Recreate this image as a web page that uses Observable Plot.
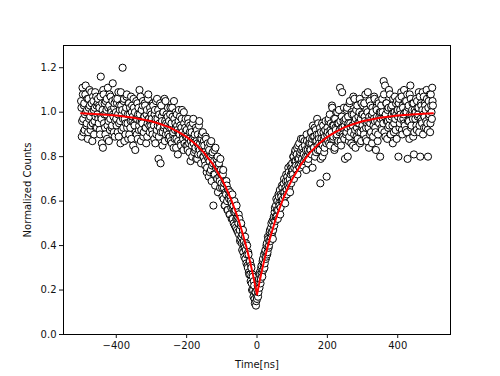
<!DOCTYPE html>
<html>
<head>
<meta charset="utf-8">
<script src="https://cdn.jsdelivr.net/npm/d3@7"></script>
<script src="https://cdn.jsdelivr.net/npm/@observablehq/plot@0.6"></script>
<style>
  html, body { margin: 0; padding: 0; background: #fff; }
  #chart { width: 500px; height: 376px; }
  svg { font-family: "DejaVu Sans", sans-serif; }
</style>
</head>
<body>
<div id="chart"></div>
<script>
// Measured samples, even time bins (ns) and normalized counts
const timeNs = [
  -500,-498,-496,-494,-492,-490,-488,-486,-484,-482,-480,-478,-476,-474,-472,-470,-468,-466,-464,-462,-460,-458,-456,-454,-452,
  -450,-448,-446,-444,-442,-440,-438,-436,-434,-432,-430,-428,-426,-424,-422,-420,-418,-416,-414,-412,-410,-408,-406,-404,-402,
  -400,-398,-396,-394,-392,-390,-388,-386,-384,-382,-380,-378,-376,-374,-372,-370,-368,-366,-364,-362,-360,-358,-356,-354,-352,
  -350,-348,-346,-344,-342,-340,-338,-336,-334,-332,-330,-328,-326,-324,-322,-320,-318,-316,-314,-312,-310,-308,-306,-304,-302,
  -300,-298,-296,-294,-292,-290,-288,-286,-284,-282,-280,-278,-276,-274,-272,-270,-268,-266,-264,-262,-260,-258,-256,-254,-252,
  -250,-248,-246,-244,-242,-240,-238,-236,-234,-232,-230,-228,-226,-224,-222,-220,-218,-216,-214,-212,-210,-208,-206,-204,-202,
  -200,-198,-196,-194,-192,-190,-188,-186,-184,-182,-180,-178,-176,-174,-172,-170,-168,-166,-164,-162,-160,-158,-156,-154,-152,
  -150,-148,-146,-144,-142,-140,-138,-136,-134,-132,-130,-128,-126,-124,-122,-120,-118,-116,-114,-112,-110,-108,-106,-104,-102,
  -100,-98,-96,-94,-92,-90,-88,-86,-84,-82,-80,-78,-76,-74,-72,-70,-68,-66,-64,-62,-60,-58,-56,-54,-52,
  -50,-48,-46,-44,-42,-40,-38,-36,-34,-32,-30,-28,-26,-24,-22,-20,-18,-16,-14,-12,-10,-8,-6,-4,-2,
  0,2,4,6,8,10,12,14,16,18,20,22,24,26,28,30,32,34,36,38,40,42,44,46,48,
  50,52,54,56,58,60,62,64,66,68,70,72,74,76,78,80,82,84,86,88,90,92,94,96,98,
  100,102,104,106,108,110,112,114,116,118,120,122,124,126,128,130,132,134,136,138,140,142,144,146,148,
  150,152,154,156,158,160,162,164,166,168,170,172,174,176,178,180,182,184,186,188,190,192,194,196,198,
  200,202,204,206,208,210,212,214,216,218,220,222,224,226,228,230,232,234,236,238,240,242,244,246,248,
  250,252,254,256,258,260,262,264,266,268,270,272,274,276,278,280,282,284,286,288,290,292,294,296,298,
  300,302,304,306,308,310,312,314,316,318,320,322,324,326,328,330,332,334,336,338,340,342,344,346,348,
  350,352,354,356,358,360,362,364,366,368,370,372,374,376,378,380,382,384,386,388,390,392,394,396,398,
  400,402,404,406,408,410,412,414,416,418,420,422,424,426,428,430,432,434,436,438,440,442,444,446,448,
  450,452,454,456,458,460,462,464,466,468,470,472,474,476,478,480,482,484,486,488,490,492,494,496,498,
  500
];
const normCounts = [
  1.05,0.89,1.11,0.97,1.03,0.92,1.08,1.00,0.95,1.06,0.91,1.02,1.10,0.98,0.94,1.04,0.87,1.07,1.01,0.96,1.09,0.93,1.03,0.99,1.06,
  0.95,1.02,0.90,1.16,0.97,1.04,0.84,1.08,0.99,0.93,1.05,1.01,0.88,1.11,0.96,1.03,0.92,1.07,1.00,0.94,1.13,0.98,1.02,0.89,1.06,
  0.97,1.04,0.91,1.09,0.95,1.01,0.86,1.03,0.99,1.20,0.93,1.06,0.97,0.90,1.02,1.08,0.95,0.88,1.04,0.99,0.93,1.07,1.00,0.96,0.85,
  1.02,0.94,0.83,0.97,0.90,1.04,0.99,0.92,1.10,0.96,0.87,1.01,0.95,1.05,0.91,0.98,1.03,0.93,0.99,0.89,1.06,0.97,0.94,1.02,0.96,
  0.99,0.92,1.04,0.95,0.88,1.01,0.97,0.90,1.06,0.94,0.79,0.99,0.93,0.77,1.03,0.96,0.91,1.00,0.94,0.87,1.05,0.95,0.92,0.98,0.90,
  0.96,0.89,1.02,0.93,0.86,0.98,0.91,1.05,0.88,0.95,0.84,0.99,0.92,0.87,1.01,0.90,0.94,0.85,0.97,0.91,0.88,1.00,0.86,0.93,0.89,
  0.92,0.85,0.97,0.88,0.82,0.94,0.87,0.91,0.80,0.95,0.86,0.89,0.83,0.93,0.87,0.79,0.90,0.84,0.96,0.86,0.81,0.88,0.84,0.91,0.80,
  0.85,0.78,0.89,0.81,0.75,0.86,0.79,0.83,0.73,0.80,0.87,0.76,0.82,0.58,0.78,0.72,0.84,0.76,0.70,0.80,0.74,0.77,0.69,0.79,0.72,
  0.72,0.62,0.74,0.66,0.58,0.69,0.63,0.67,0.56,0.65,0.62,0.54,0.64,0.60,0.52,0.63,0.57,0.50,0.60,0.55,0.48,0.58,0.52,0.46,0.54,
  0.52,0.42,0.49,0.44,0.38,0.47,0.41,0.35,0.44,0.38,0.32,0.40,0.30,0.36,0.27,0.33,0.24,0.30,0.20,0.26,0.17,0.22,0.14,0.19,0.15,
  0.16,0.22,0.19,0.25,0.28,0.23,0.30,0.27,0.33,0.29,0.36,0.32,0.38,0.35,0.41,0.37,0.43,0.40,0.46,0.42,0.48,0.45,0.51,0.47,0.53,
  0.55,0.51,0.58,0.53,0.60,0.56,0.62,0.58,0.54,0.63,0.60,0.66,0.61,0.68,0.64,0.59,0.69,0.65,0.71,0.67,0.73,0.68,0.64,0.72,0.75,
  0.77,0.72,0.80,0.75,0.82,0.78,0.74,0.84,0.79,0.76,0.86,0.81,0.77,0.83,0.79,0.88,0.82,0.78,0.85,0.80,0.74,0.87,0.83,0.79,0.86,
  0.88,0.83,0.91,0.86,0.75,0.89,0.84,0.93,0.87,0.82,0.90,0.85,0.95,0.88,0.83,0.68,0.91,0.86,0.80,0.94,0.88,0.84,0.92,0.87,0.71,
  0.93,0.87,0.97,0.90,0.85,0.95,0.91,1.02,0.88,0.94,0.83,0.97,0.92,0.89,1.00,0.86,0.95,0.91,1.11,0.87,0.93,1.09,0.90,0.96,0.88,
  0.79,0.97,0.91,1.02,0.80,0.95,0.89,1.05,0.93,0.86,0.99,0.94,1.07,0.90,0.96,0.84,1.01,0.93,0.88,0.98,0.95,1.06,0.91,0.87,0.99,
  0.94,1.03,0.90,0.98,1.08,0.93,0.87,1.00,0.96,0.84,1.05,0.95,0.91,0.99,1.02,0.89,0.97,1.06,0.93,0.83,1.01,0.96,0.90,1.04,0.98,
  0.80,1.00,0.93,1.06,0.97,1.14,0.91,1.12,0.99,1.04,0.88,0.96,1.02,0.94,1.08,0.90,0.98,1.03,0.86,1.00,0.95,1.07,0.92,0.99,1.05,
  1.01,0.80,1.06,0.95,0.99,1.09,0.92,1.03,0.97,1.10,0.94,1.00,1.05,0.91,0.79,1.02,0.96,1.08,1.12,0.93,0.99,1.04,0.89,0.81,1.01,
  0.97,1.06,0.92,1.02,0.99,1.09,0.94,0.80,1.04,0.96,1.01,0.90,1.07,0.98,1.03,0.93,1.10,0.95,0.80,1.05,0.99,0.91,1.08,1.00,1.11,
  1.03
];
// Measured samples, odd time bins (ns) and normalized counts
const timeNsOdd = [
  -499,-497,-495,-493,-491,-489,-487,-485,-483,-481,-479,-477,-475,-473,-471,-469,-467,-465,-463,-461,-459,-457,-455,-453,-451,
  -449,-447,-445,-443,-441,-439,-437,-435,-433,-431,-429,-427,-425,-423,-421,-419,-417,-415,-413,-411,-409,-407,-405,-403,-401,
  -399,-397,-395,-393,-391,-389,-387,-385,-383,-381,-379,-377,-375,-373,-371,-369,-367,-365,-363,-361,-359,-357,-355,-353,-351,
  -349,-347,-345,-343,-341,-339,-337,-335,-333,-331,-329,-327,-325,-323,-321,-319,-317,-315,-313,-311,-309,-307,-305,-303,-301,
  -299,-297,-295,-293,-291,-289,-287,-285,-283,-281,-279,-277,-275,-273,-271,-269,-267,-265,-263,-261,-259,-257,-255,-253,-251,
  -249,-247,-245,-243,-241,-239,-237,-235,-233,-231,-229,-227,-225,-223,-221,-219,-217,-215,-213,-211,-209,-207,-205,-203,-201,
  -199,-197,-195,-193,-191,-189,-187,-185,-183,-181,-179,-177,-175,-173,-171,-169,-167,-165,-163,-161,-159,-157,-155,-153,-151,
  -149,-147,-145,-143,-141,-139,-137,-135,-133,-131,-129,-127,-125,-123,-121,-119,-117,-115,-113,-111,-109,-107,-105,-103,-101,
  -99,-97,-95,-93,-91,-89,-87,-85,-83,-81,-79,-77,-75,-73,-71,-69,-67,-65,-63,-61,-59,-57,-55,-53,-51,
  -49,-47,-45,-43,-41,-39,-37,-35,-33,-31,-29,-27,-25,-23,-21,-19,-17,-15,-13,-11,-9,-7,-5,-3,-1,
  1,3,5,7,9,11,13,15,17,19,21,23,25,27,29,31,33,35,37,39,41,43,45,47,49,
  51,53,55,57,59,61,63,65,67,69,71,73,75,77,79,81,83,85,87,89,91,93,95,97,99,
  101,103,105,107,109,111,113,115,117,119,121,123,125,127,129,131,133,135,137,139,141,143,145,147,149,
  151,153,155,157,159,161,163,165,167,169,171,173,175,177,179,181,183,185,187,189,191,193,195,197,199,
  201,203,205,207,209,211,213,215,217,219,221,223,225,227,229,231,233,235,237,239,241,243,245,247,249,
  251,253,255,257,259,261,263,265,267,269,271,273,275,277,279,281,283,285,287,289,291,293,295,297,299,
  301,303,305,307,309,311,313,315,317,319,321,323,325,327,329,331,333,335,337,339,341,343,345,347,349,
  351,353,355,357,359,361,363,365,367,369,371,373,375,377,379,381,383,385,387,389,391,393,395,397,399,
  401,403,405,407,409,411,413,415,417,419,421,423,425,427,429,431,433,435,437,439,441,443,445,447,449,
  451,453,455,457,459,461,463,465,467,469,471,473,475,477,479,481,483,485,487,489,491,493,495,497,499
];
const normCountsOdd = [
  1.02,0.96,1.08,0.91,1.04,0.99,1.12,0.94,1.01,0.88,1.06,0.97,1.03,0.92,1.09,1.00,0.95,1.05,0.90,1.02,0.98,1.07,0.93,1.04,0.97,
  1.03,0.92,1.07,0.98,0.86,1.01,1.10,0.95,1.04,0.90,0.99,1.06,0.94,1.02,0.87,1.08,0.97,1.01,0.93,1.05,0.99,0.91,1.04,0.96,1.00,
  0.94,1.06,0.99,0.89,1.03,0.96,1.09,0.92,1.01,0.97,1.05,0.87,1.00,0.95,1.07,0.93,0.99,1.04,0.90,1.02,0.96,0.88,1.03,0.98,1.06,
  0.95,1.00,0.91,1.05,0.97,0.88,1.02,0.94,0.99,1.07,0.92,0.96,1.03,0.89,0.98,1.04,0.93,0.86,1.01,0.95,1.08,0.97,0.91,1.00,0.94,
  0.97,0.90,1.03,0.94,0.99,0.86,1.05,0.92,0.97,1.01,0.89,0.95,1.04,0.91,0.98,0.85,1.00,0.93,1.06,0.96,0.90,0.99,0.94,1.02,0.88,
  0.93,0.99,0.87,0.95,1.02,0.90,0.84,0.97,0.92,1.00,0.88,0.94,0.81,0.96,0.91,0.98,0.86,0.93,1.01,0.89,0.83,0.95,0.90,0.97,0.85,
  0.89,0.83,0.95,0.86,0.91,0.78,0.93,0.85,0.88,0.97,0.82,0.90,0.84,0.79,0.92,0.86,0.81,0.94,0.83,0.88,0.77,0.90,0.85,0.80,0.87,
  0.82,0.76,0.88,0.73,0.80,0.84,0.71,0.78,0.86,0.74,0.69,0.81,0.77,0.72,0.83,0.67,0.75,0.79,0.70,0.64,0.76,0.71,0.66,0.74,0.68,
  0.66,0.72,0.61,0.68,0.58,0.64,0.69,0.60,0.56,0.65,0.61,0.54,0.62,0.57,0.59,0.52,0.58,0.55,0.49,0.56,0.52,0.47,0.53,0.50,0.45,
  0.47,0.43,0.50,0.41,0.45,0.37,0.42,0.39,0.34,0.41,0.36,0.31,0.37,0.28,0.33,0.27,0.31,0.23,0.27,0.20,0.24,0.16,0.19,0.13,0.17,
  0.20,0.17,0.24,0.21,0.27,0.25,0.31,0.26,0.34,0.31,0.30,0.37,0.34,0.40,0.36,0.44,0.39,0.42,0.47,0.44,0.50,0.46,0.43,0.52,0.49,
  0.57,0.53,0.61,0.56,0.52,0.63,0.59,0.65,0.57,0.62,0.67,0.60,0.64,0.70,0.62,0.66,0.72,0.63,0.69,0.75,0.66,0.70,0.76,0.68,0.73,
  0.74,0.80,0.70,0.78,0.83,0.76,0.81,0.72,0.85,0.79,0.75,0.82,0.88,0.78,0.84,0.76,0.81,0.87,0.79,0.83,0.90,0.80,0.77,0.85,0.82,
  0.86,0.91,0.81,0.88,0.94,0.84,0.89,0.80,0.92,0.87,0.97,0.83,0.90,0.86,0.93,0.79,0.88,0.95,0.85,0.91,0.82,0.89,0.96,0.86,0.90,
  0.91,0.96,0.86,0.99,0.92,0.88,1.03,0.94,0.89,0.97,0.84,0.93,1.00,0.90,0.95,0.87,1.01,0.92,0.96,0.85,0.98,0.93,0.89,1.02,0.94,
  0.96,0.90,1.01,0.93,0.98,0.87,1.04,0.95,0.91,1.00,0.94,0.85,0.99,1.06,0.92,0.97,0.89,1.03,0.95,0.91,1.00,0.86,0.97,1.04,0.93,
  0.99,0.92,1.04,0.96,0.88,1.01,0.95,1.09,0.93,0.98,0.90,1.03,0.97,0.86,1.00,0.94,1.07,0.96,0.91,1.02,0.98,0.87,1.05,0.95,1.00,
  0.97,1.03,0.92,1.00,0.95,1.08,0.98,0.89,1.04,0.96,1.01,0.93,1.10,0.97,0.90,1.02,0.99,0.94,1.06,0.91,1.00,0.97,1.04,0.88,1.01,
  0.98,1.04,0.93,1.01,0.97,1.07,0.90,1.02,0.99,0.95,1.05,0.92,1.00,1.08,0.96,1.03,0.88,0.99,1.06,0.94,1.01,0.97,1.04,0.91,0.99,
  1.00,0.94,1.05,0.98,1.02,0.91,1.07,0.97,1.03,0.95,1.09,0.99,0.93,1.04,1.01,0.96,1.06,0.92,1.02,0.98,1.08,0.95,1.03,0.97,1.05
];
// Fitted curve
const fitTime = [-500,-450,-400,-350,-300,-275,-250,-225,-200,-175,-150,-125,-100,-90,-75,-60,-50,-40,-35,-30,-25,-20,-15,-10,-5,0,
                 5,10,15,20,25,30,35,40,50,60,75,90,100,125,150,175,200,225,250,275,300,350,400,450,500];
const fitValue = [0.995,0.991,0.985,0.975,0.959,0.947,0.933,0.913,0.889,0.857,0.817,0.765,0.698,0.667,0.613,0.550,0.503,0.450,0.422,0.393,0.361,0.329,0.294,0.258,0.220,0.180,
                  0.220,0.258,0.294,0.329,0.361,0.393,0.422,0.450,0.503,0.550,0.613,0.667,0.698,0.765,0.817,0.857,0.889,0.913,0.933,0.947,0.959,0.975,0.985,0.991,0.995];
const xTicks = [-400, -200, 0, 200, 400];
const yTicks = [0, 0.2, 0.4, 0.6, 0.8, 1.0, 1.2];

const samples = timeNs.map((t, i) => ({t, v: normCounts[i]}))
  .concat(timeNsOdd.map((t, i) => ({t, v: normCountsOdd[i]})))
  .sort((a, b) => a.t - b.t);
const fit = fitTime.map((t, i) => ({t, v: fitValue[i]}));

const chart = Plot.plot({
  width: 500,
  height: 376,
  marginLeft: 63,
  marginRight: 50,
  marginTop: 45,
  marginBottom: 42,
  style: {fontFamily: "DejaVu Sans, sans-serif", fontSize: "10px", color: "#111", background: "#fff"},
  x: {domain: [-550, 550]},
  y: {domain: [0, 1.3]},
  marks: [
    Plot.dot(samples, {x: "t", y: "v", r: 3.6, fill: "white", stroke: "black", strokeWidth: 1}),
    Plot.line(fit, {x: "t", y: "v", stroke: "#ff0000", strokeWidth: 2}),
    Plot.frame({stroke: "black", strokeWidth: 1}),
    Plot.axisX({ticks: xTicks, tickSize: 4, tickPadding: 3, label: "Time[ns]", labelAnchor: "center", labelArrow: "none", labelOffset: 33, fontSize: 10}),
    Plot.axisY({ticks: yTicks, tickSize: 4, tickPadding: 3, tickFormat: d3.format(".1f"), label: "Normalized Counts", labelAnchor: "center", labelArrow: "none", labelOffset: 40, fontSize: 10})
  ]
});
document.getElementById("chart").appendChild(chart);
</script>
</body>
</html>
